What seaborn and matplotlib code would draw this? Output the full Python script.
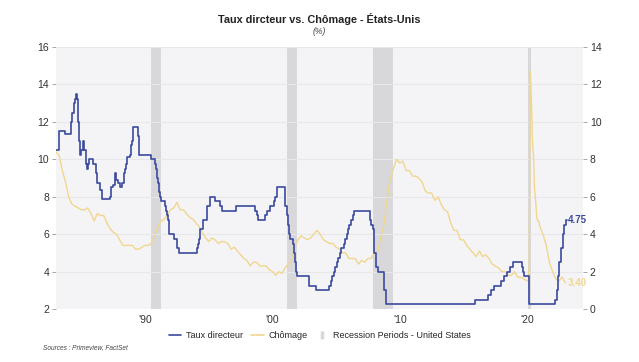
import pandas as pd
import seaborn as sns
import numpy as np
import matplotlib.pyplot as plt
from matplotlib.lines import Line2D

# Taux directeur (borne haute de la cible), dates de changement
fed_dates = ["1983-01", "1983-04", "1983-10", "1984-03", "1984-04", "1984-06", "1984-07", "1984-08",
             "1984-09", "1984-10", "1984-11", "1984-12", "1985-01", "1985-02", "1985-03", "1985-05",
             "1985-06", "1985-07", "1985-08", "1985-12", "1986-03", "1986-04", "1986-07", "1986-08",
             "1987-04", "1987-05", "1987-07", "1987-09", "1987-10", "1987-11", "1988-01", "1988-03",
             "1988-05", "1988-06", "1988-07", "1988-08", "1988-11", "1988-12", "1989-01", "1989-02",
             "1989-06", "1989-07", "1990-07", "1990-10", "1990-11", "1990-12", "1991-01", "1991-02",
             "1991-03", "1991-04", "1991-08", "1991-09", "1991-10", "1991-11", "1991-12", "1992-04",
             "1992-07", "1992-09", "1994-02", "1994-03", "1994-04", "1994-05", "1994-08", "1994-11",
             "1995-02", "1995-07", "1995-12", "1996-01", "1997-03", "1998-09", "1998-10", "1998-11",
             "1999-06", "1999-08", "1999-11", "2000-02", "2000-03", "2000-05", "2001-01", "2001-03",
             "2001-04", "2001-05", "2001-06", "2001-08", "2001-09", "2001-10", "2001-11", "2001-12",
             "2002-11", "2003-06", "2004-06", "2004-08", "2004-09", "2004-11", "2004-12", "2005-02",
             "2005-03", "2005-05", "2005-06", "2005-08", "2005-09", "2005-11", "2005-12", "2006-01",
             "2006-03", "2006-05", "2006-06", "2007-09", "2007-10", "2007-12", "2008-01", "2008-03",
             "2008-04", "2008-10", "2008-12", "2015-12", "2016-12", "2017-03", "2017-06", "2017-12",
             "2018-03", "2018-06", "2018-09", "2018-12", "2019-08", "2019-09", "2019-10", "2020-03",
             "2022-03", "2022-05", "2022-06", "2022-07", "2022-09", "2022-11", "2022-12", "2023-02",
             "2023-03"]
fed_values = [8.5, 9.5, 9.375, 10.0, 10.5, 11.0, 11.25, 11.5,
              11.25, 10.0, 9.0, 8.25, 8.5, 9.0, 8.5, 7.75,
              7.5, 7.75, 8.0, 7.75, 7.25, 6.75, 6.375, 5.875,
              6.0, 6.5, 6.625, 7.25, 6.875, 6.75, 6.5, 6.75,
              7.25, 7.5, 7.75, 8.125, 8.25, 8.75, 9.0, 9.75,
              9.25, 8.25, 8.0, 7.75, 7.5, 7.0, 6.75, 6.25,
              6.0, 5.75, 5.5, 5.25, 5.0, 4.75, 4.0, 3.75,
              3.25, 3.0, 3.25, 3.5, 3.75, 4.25, 4.75, 5.5,
              6.0, 5.75, 5.5, 5.25, 5.5, 5.25, 5.0, 4.75,
              5.0, 5.25, 5.5, 5.75, 6.0, 6.5, 5.5, 5.0,
              4.5, 4.0, 3.75, 3.5, 3.0, 2.5, 2.0, 1.75,
              1.25, 1.0, 1.25, 1.5, 1.75, 2.0, 2.25, 2.5,
              2.75, 3.0, 3.25, 3.5, 3.75, 4.0, 4.25, 4.5,
              4.75, 5.0, 5.25, 4.75, 4.5, 4.25, 3.0, 2.25,
              2.0, 1.0, 0.25, 0.5, 0.75, 1.0, 1.25, 1.5,
              1.75, 2.0, 2.25, 2.5, 2.25, 2.0, 1.75, 0.25,
              0.5, 1.0, 1.75, 2.5, 3.25, 4.0, 4.5, 4.75,
              4.75]

# Chômage trimestriel 1983-2019
unemp_q = [10.4, 10.2, 9.4, 8.8, 8.0, 7.6, 7.5, 7.4, 7.3, 7.3, 7.4, 7.1, 6.7, 7.1, 7.0, 7.0,
           6.6, 6.3, 6.1, 6.0, 5.7, 5.4, 5.4, 5.4, 5.4, 5.2, 5.2, 5.3, 5.4, 5.4, 5.5, 5.9,
           6.4, 6.7, 6.8, 7.0, 7.3, 7.4, 7.7, 7.3, 7.3, 7.1, 6.9, 6.8, 6.6, 6.4, 6.1, 5.8,
           5.6, 5.8, 5.7, 5.5, 5.6, 5.6, 5.5, 5.2, 5.3, 5.1, 4.9, 4.7, 4.6, 4.3, 4.5, 4.5,
           4.3, 4.3, 4.3, 4.1, 4.0, 3.8, 4.0, 3.9, 4.2, 4.4, 4.6, 5.3, 5.7, 5.9, 5.8, 5.7,
           5.8, 6.0, 6.2, 6.0, 5.7, 5.6, 5.5, 5.5, 5.3, 5.2, 5.0, 5.0, 4.7, 4.7, 4.7, 4.4,
           4.6, 4.5, 4.7, 4.7, 5.0, 5.0, 5.8, 6.5, 7.8, 9.0, 9.5, 10.0, 9.8, 9.9, 9.4, 9.4,
           9.1, 9.1, 9.0, 8.8, 8.3, 8.2, 8.2, 7.8, 8.0, 7.6, 7.3, 7.2, 6.6, 6.2, 6.2, 5.7,
           5.7, 5.4, 5.2, 5.0, 4.8, 5.1, 4.8, 4.9, 4.7, 4.4, 4.3, 4.2, 4.0, 4.0, 3.8, 3.8,
           4.0, 3.7, 3.7, 3.6]
# 2020 mensuel
unemp_2020 = [3.5, 3.5, 4.4, 14.7, 13.2, 11.0, 10.2, 8.4, 7.8, 6.9, 6.7, 6.7]
# 2021-2022 trimestriel, puis janvier 2023
unemp_late = [6.4, 6.0, 5.4, 4.5, 4.0, 3.6, 3.5, 3.7, 3.4]

recessions = [("1990-07-01", "1991-03-31"), ("2001-03-01", "2001-11-30"),
              ("2007-12-01", "2009-06-30"), ("2020-02-01", "2020-04-30")]
x_ticks = ["1990", "2000", "2010", "2020"]
x_labels = ["'90", "'00", "'10", "'20"]

fed = pd.DataFrame({"date": pd.to_datetime(fed_dates), "taux": fed_values})
ud = list(pd.date_range("1983-01-01", periods=len(unemp_q), freq="QS")) \
    + list(pd.date_range("2020-01-01", periods=12, freq="MS")) \
    + list(pd.date_range("2021-01-01", periods=8, freq="QS")) + [pd.Timestamp("2023-01-01")]
unemp = pd.DataFrame({"date": ud, "chomage": unemp_q + unemp_2020 + unemp_late})

sns.set_style("white")
plt.rcParams["font.family"] = ["Liberation Sans", "DejaVu Sans"]

navy = "#3b4a9e"
yellow = "#f0d68e"
band = "#d8d8db"

fig = plt.figure(figsize=(6.39, 3.62), dpi=100)
ax = fig.add_axes([0.0876, 0.1464, 0.8247, 0.7236])
ax.set_facecolor("#f4f4f6")
ax2 = ax.twinx()

for s, e in recessions:
    ax.axvspan(pd.Timestamp(s), pd.Timestamp(e), color=band, lw=0, zorder=0)

sns.lineplot(data=unemp, x="date", y="chomage", ax=ax, color=yellow, lw=1.0, zorder=3)
sns.lineplot(data=fed, x="date", y="taux", ax=ax2, color=navy, lw=1.2,
             drawstyle="steps-post")

ax.set_ylim(2, 16)
ax2.set_ylim(0, 14)
ax.set_yticks(np.arange(2, 17, 2))
ax2.set_yticks(np.arange(0, 15, 2))
ax.set_xlim(pd.Timestamp("1983-01-01"), pd.Timestamp("2024-05-20"))
ax.set_xticks(pd.to_datetime(x_ticks))
ax.set_xticklabels(x_labels)
for a in (ax, ax2):
    a.set_xlabel("")
    a.set_ylabel("")
    for sp in a.spines.values():
        sp.set_visible(False)
    a.tick_params(axis="both", length=3, width=0.6, color="#999999",
                  labelsize=7.5, labelcolor="#333333", pad=2)
ax.tick_params(axis="x", length=2)
for yv in np.arange(4, 17, 2):
    ax.axhline(yv, color="#e8e8eb", lw=0.8, zorder=1)

ax2.text(pd.Timestamp("2023-03-20"), 4.75, "4.75", color=navy, fontsize=7,
         fontweight="bold", va="center")
ax.text(pd.Timestamp("2023-03-20"), 3.4, "3.40", color=yellow, fontsize=7,
        fontweight="bold", va="center")

fig.text(0.5, 0.948, "Taux dircteur vs. Chômage - États-Unis", ha="center", va="center",
         fontsize=7.8, fontweight="bold", color="#222222")
fig.text(0.5, 0.914, "(%)", ha="center", va="center", fontsize=6.2, style="italic",
         color="#444444")
fig.text(0.067, 0.039, "Sources : Primeview, FactSet", ha="left", va="center",
         fontsize=4.7, style="italic", color="#444444")

handles = [Line2D([], [], color=navy, lw=1.2),
           Line2D([], [], color=yellow, lw=1.2),
           Line2D([], [], color=band, lw=0, marker="|", markersize=6, markeredgewidth=2.5)]
fig.legend(handles, ["Taux directeur", "Chômage", "Recession Periods - United States"],
           loc="center", bbox_to_anchor=(0.5, 0.072), ncol=3, frameon=False,
           fontsize=6.5, handlelength=1.4, handletextpad=0.5, columnspacing=0.9)

fig.savefig("out.png", dpi=100)
